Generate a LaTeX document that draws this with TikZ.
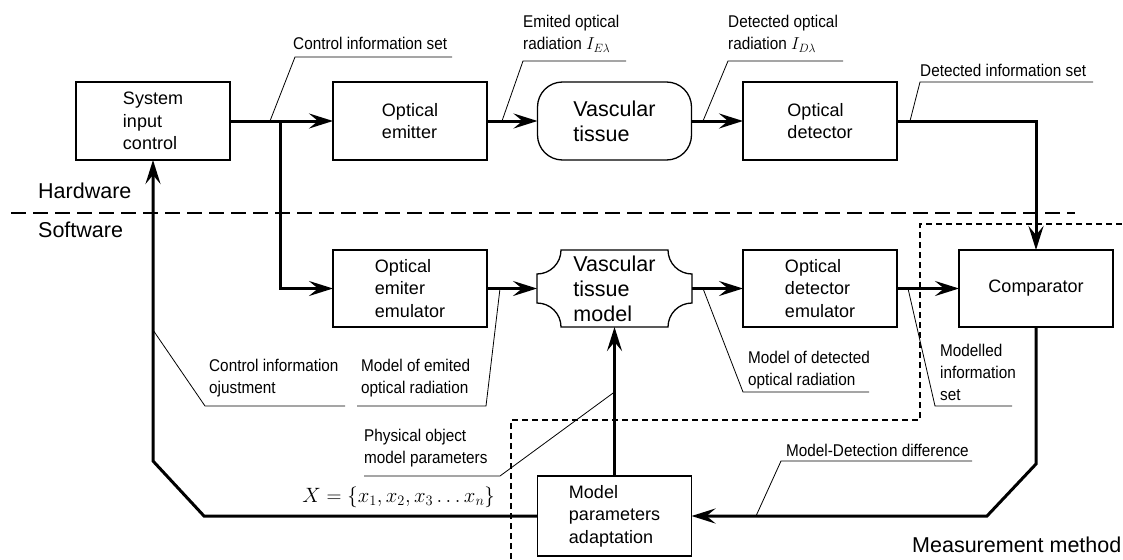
\documentclass[tikz,border=0pt]{standalone}
\usepackage{fontspec}
\setmainfont{Liberation Sans}
\newfontfamily\labelfont{Liberation Sans}[FakeStretch=0.9]
\usetikzlibrary{arrows.meta}
\tikzset{
  box/.style={draw, line width=1.3pt, minimum width=154pt, minimum height=78pt,
    inner sep=0pt, outer sep=0pt, align=left, font=\fontsize{18}{22.5}\selectfont},
  flow/.style={line width=3pt},
  arr/.style={flow, -{Stealth[length=24pt,width=15pt,inset=9pt]}},
  lead/.style={line width=0.8pt},
  lbl/.style={anchor=base west, inner sep=0pt, align=left, font=\labelfont\fontsize{17}{22}\selectfont},
  big/.style={anchor=base west, inner sep=0pt, font=\fontsize{21.5}{25}\selectfont},
  sep/.style={line width=1.3pt, dash pattern=on 15pt off 7pt},
  region/.style={line width=1.2pt, dash pattern=on 6pt off 4pt},
}
\begin{document}
\begin{tikzpicture}[x=1pt,y=-1pt]
\useasboundingbox (0,0) rectangle (1123,559);

% separators
\draw[sep] (11,213) -- (1075,213);
\draw[region] (511,559) -- (511,420) -- (920,420) -- (920,224) -- (1123,224);

% blocks
\node[box] (sic) at (153,121) {System\\input\\control};
\node[box] (oem) at (410,121) {Optical\\emitter};
\node[box, rounded corners=25pt, font=\fontsize{21.5}{25}\selectfont] (vt) at (614.5,121) {Vascular\\tissue};
\node[box] (odet) at (820,121) {Optical\\detector};
\node[box, minimum height=77pt] (oeemu) at (410,288.5) {Optical\\emiter\\emulator};
\node[box, draw=none, minimum width=155pt, minimum height=77pt, font=\fontsize{21.5}{25}\selectfont] (vtm) at (614.5,288.5) {Vascular\\tissue\\model};
\draw[line width=1.3pt, shift={(vtm.center)}]
  (-53.5,-38.5) -- (53.5,-38.5)
  .. controls (53.5,-25.25) and (64.25,-14.5) .. (77.5,-14.5) -- (77.5,14.5)
  .. controls (64.25,14.5) and (53.5,25.25) .. (53.5,38.5) -- (-53.5,38.5)
  .. controls (-53.5,25.25) and (-64.25,14.5) .. (-77.5,14.5) -- (-77.5,-14.5)
  .. controls (-64.25,-14.5) and (-53.5,-25.25) .. cycle;
\node[box, minimum height=77pt] (odemu) at (820,288.5) {Optical\\detector\\emulator};
\node[box, minimum height=77pt] (comp) at (1036,288.5) {Comparator};
\node[box, minimum height=80pt] (mpa) at (614.5,516) {Model\\parameters\\adaptation};

% flow connectors
\coordinate (br) at (280,121);
\draw[arr] (sic.east) -- (oem.west);
\draw[arr] (br) |- (oeemu.west);
\draw[arr] (oem.east) -- (vt.west);
\draw[arr] (vt.east) -- (odet.west);
\draw[arr] (odet.east) -| (comp.north);
\draw[arr] (oeemu.east) -- (vtm.west);
\draw[arr] (vtm.east) -- (odemu.west);
\draw[arr] (odemu.east) -- (comp.west);
\draw[arr] (mpa.north) -- (vtm.south);
\coordinate (c1) at (1036,464);
\coordinate (c2) at (987,516);
\draw[arr] (comp.south) -- (c1) -- (c2) -- (mpa.east);
\coordinate (f1) at (204,516);
\coordinate (f2) at (153,461);
\draw[arr] (mpa.west) -- (f1) -- (f2) -- (sic.south);

% labels
\node[lbl] (l1) at (293,50) {Control information set};
\coordinate (p1) at (270,121);
\draw[lead] (452,57) -- (295,57) -- (p1);

\node[lbl] (l2) at (523,50) {Emited optical\\radiation $I_{E\lambda}$};
\coordinate (p2) at (502,121);
\draw[lead] (626,61) -- (523,61) -- (p2);

\node[lbl] (l3) at (728,50) {Detected optical\\radiation $I_{D\lambda}$};
\coordinate (p3) at (703,121);
\draw[lead] (843,61) -- (728,61) -- (p3);

\node[lbl] (l4) at (920,77) {Detected information set};
\coordinate (p4) at (910,121);
\draw[lead] (1093,82) -- (920,82) -- (p4);

\node[lbl] (l5) at (209,393) {Control information\\ojustment};
\coordinate (p5) at (153,330);
\draw[lead] (345,406) -- (205,406) -- (p5);

\node[lbl] (l6) at (361,393) {Model of emited\\optical radiation};
\coordinate (p6) at (500,288.5);
\draw[lead] (357,406) -- (486,406) -- (p6);

\node[lbl] (l7) at (748,385) {Model of detected\\optical radiation};
\coordinate (p7) at (703,288.5);
\draw[lead] (869,392) -- (743,392) -- (p7);

\node[lbl] (l8) at (940,400) {Modelled\\information\\set};
\coordinate (p8) at (908,288.5);
\draw[lead] (1012,406) -- (935,406) -- (p8);

\node[lbl] (l9) at (364,463) {Physical object\\model parameters};
\coordinate (p9) at (614.5,392);
\draw[lead] (364,476) -- (500,476) -- (p9);

\node[lbl] (l10) at (786,456) {Model-Detection difference};
\coordinate (p10) at (756,516);
\draw[lead] (972,461) -- (781,461) -- (p10);

\node[anchor=east, inner sep=0pt, font=\fontsize{22}{26}\selectfont] (xset) at (495,497)
  {$X=\bigl\{x_1,x_2,x_3\ldots x_n\bigr\}$};

\node[big] (hw) at (38,198) {Hardware};
\node[big] (sw) at (38,237) {Software};
\node[big] (mm) at (912,552) {Measurement method};
\end{tikzpicture}
\end{document}
